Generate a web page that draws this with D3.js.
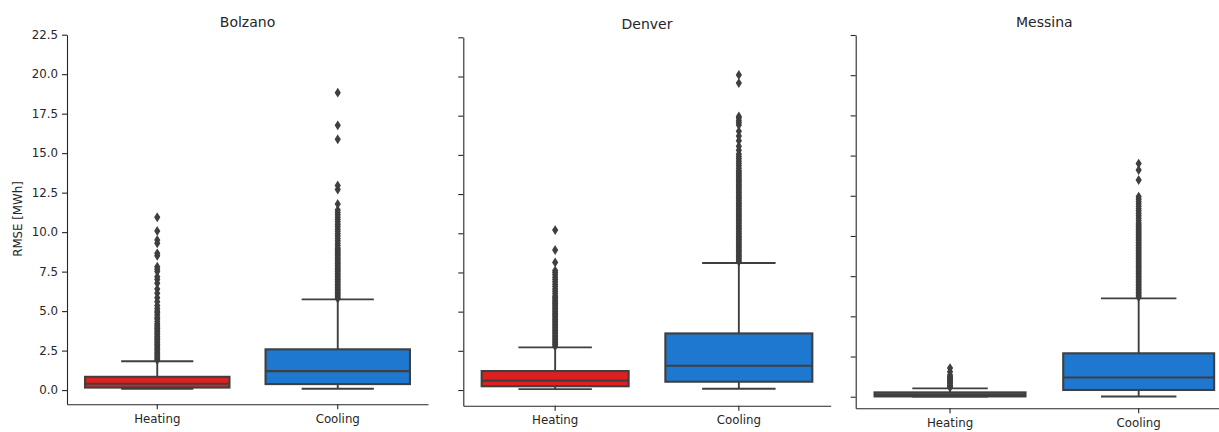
<!DOCTYPE html>
<meta charset='utf-8'>
<style>
	body {
		margin: 0;
		background: white;
	}

	text {
		font-family: 'DejaVu Sans', sans-serif;
		fill: #262626;
	}

	.axis path, .axis line {
		stroke: #262626;
		stroke-width: 1.1px;
	}
</style>
<body>
<script src='https://cdn.jsdelivr.net/npm/d3@7'></script>

<script type='text/javascript'>
	// data
	var cities = ['Bolzano', 'Denver', 'Messina'];
	var categories = ['Heating', 'Cooling'];
	var yTickValues = [0, 2.5, 5, 7.5, 10, 12.5, 15, 17.5, 20, 22.5];

	var heatingLow = [0.08, 0.06, 0.01];
	var heatingQ1 = [0.16, 0.24, 0.02];
	var heatingMedian = [0.4, 0.6, 0.1];
	var heatingQ3 = [0.84, 1.21, 0.27];
	var heatingHigh = [1.83, 2.72, 0.52];

	var coolingLow = [0.08, 0.08, 0.01];
	var coolingQ1 = [0.38, 0.53, 0.42];
	var coolingMedian = [1.2, 1.55, 1.2];
	var coolingQ3 = [2.58, 3.61, 2.7];
	var coolingHigh = [5.74, 8.1, 6.12];

	var bolzanoHeatingOutliers = [1.9, 2.0, 2.1, 2.2, 2.3, 2.4, 2.5, 2.6, 2.7, 2.8, 2.9, 3.0, 3.1, 3.2, 3.3, 3.4,
		3.5, 3.6, 3.7, 3.8, 3.9, 4.0, 4.1, 4.2, 4.35, 4.5, 4.6, 4.75, 4.9, 5.0, 5.17, 5.35, 5.6, 5.85, 6.13, 6.4,
		6.76, 7.0, 7.18, 7.5, 7.65, 7.81, 8.5, 8.66, 9.29, 9.5, 10.07, 10.94];
	var bolzanoCoolingOutliers = [5.8, 5.9, 6.0, 6.1, 6.2, 6.3, 6.4, 6.5, 6.6, 6.7, 6.8, 6.9, 7.0, 7.1, 7.2, 7.3,
		7.4, 7.5, 7.6, 7.7, 7.8, 7.9, 8.0, 8.1, 8.2, 8.3, 8.4, 8.5, 8.6, 8.7, 8.8, 8.9, 9.0, 9.15, 9.3, 9.45, 9.6,
		9.75, 9.9, 10.05, 10.2, 10.35, 10.5, 10.65, 10.8, 10.95, 11.1, 11.25, 11.4, 11.78, 12.7, 12.95, 15.88,
		16.76, 18.83];
	var denverHeatingOutliers = [2.8, 2.9, 3.0, 3.1, 3.2, 3.3, 3.4, 3.5, 3.6, 3.7, 3.8, 3.9, 4.0, 4.1, 4.2, 4.3,
		4.4, 4.5, 4.6, 4.7, 4.8, 4.9, 5.0, 5.1, 5.2, 5.3, 5.4, 5.5, 5.6, 5.7, 5.8, 5.9, 6.0, 6.15, 6.3, 6.45, 6.6,
		6.75, 6.9, 7.05, 7.2, 7.35, 7.5, 7.62, 8.14, 8.93, 10.2];
	var denverCoolingOutliers = [8.2, 8.3, 8.4, 8.5, 8.6, 8.7, 8.8, 8.9, 9.0, 9.1, 9.2, 9.3, 9.4, 9.5, 9.6, 9.7,
		9.8, 9.9, 10.0, 10.1, 10.2, 10.3, 10.4, 10.5, 10.6, 10.7, 10.8, 10.9, 11.0, 11.1, 11.2, 11.3, 11.4, 11.5,
		11.6, 11.7, 11.8, 11.9, 12.0, 12.1, 12.2, 12.3, 12.4, 12.5, 12.6, 12.7, 12.8, 12.9, 13.0, 13.1, 13.2,
		13.3, 13.4, 13.5, 13.6, 13.7, 13.8, 13.9, 14.0, 14.15, 14.3, 14.45, 14.6, 14.75, 14.9, 15.05, 15.3, 15.55,
		15.9, 16.2, 16.5, 16.9, 17.05, 17.2, 17.35, 17.45, 19.58, 20.1];
	var messinaHeatingOutliers = [0.58, 0.65, 0.72, 0.8, 0.88, 0.95, 1.02, 1.1, 1.18, 1.25, 1.35, 1.55, 1.78];
	var messinaCoolingOutliers = [6.2, 6.3, 6.4, 6.5, 6.6, 6.7, 6.8, 6.9, 7.0, 7.1, 7.2, 7.3, 7.4, 7.5, 7.6, 7.7,
		7.8, 7.9, 8.0, 8.1, 8.2, 8.3, 8.4, 8.5, 8.6, 8.7, 8.8, 8.9, 9.0, 9.1, 9.2, 9.3, 9.4, 9.5, 9.6, 9.7, 9.8,
		9.9, 10.0, 10.1, 10.2, 10.3, 10.4, 10.5, 10.6, 10.7, 10.8, 10.95, 11.1, 11.25, 11.4, 11.55, 11.7, 11.85,
		12.0, 12.15, 12.3, 12.45, 13.48, 14.1, 14.5];

	var heatingOutliers = [bolzanoHeatingOutliers, denverHeatingOutliers, messinaHeatingOutliers];
	var coolingOutliers = [bolzanoCoolingOutliers, denverCoolingOutliers, messinaCoolingOutliers];

	// layout of each panel (pixels), the panels are not quite identical in the picture
	var panels = [
		{left: 67, right: 428, top: 34.7, bottom: 404.3, yMin: -0.9, labels: true},
		{left: 463.3, right: 830.7, top: 37.3, bottom: 405.7, yMin: -1.0, labels: false},
		{left: 855.7, right: 1233, top: 35, bottom: 408.3, yMin: -0.72, labels: false}
	];
	var colors = {Heating: '#df2020', Cooling: '#1e78d0'};
	var lineColor = '#3f3f3f';

	var svgW = 1219, svgH = 432;
	var svg = d3.select('body').append('svg').attr('width', svgW).attr('height', svgH);

	var diamond = 'M0,-3.8L2.4,0L0,3.8L-2.4,0Z';

	cities.forEach(function (city, i) {
		var p = panels[i];
		var y = d3.scaleLinear().domain([p.yMin, 22.5]).range([p.bottom, p.top]);
		var x = d3.scaleBand().domain(categories).range([p.left, p.right]).padding(0);
		var g = svg.append('g');

		var boxes = [
			{cat: 'Heating', lo: heatingLow[i], q1: heatingQ1[i], med: heatingMedian[i], q3: heatingQ3[i], hi: heatingHigh[i], out: heatingOutliers[i]},
			{cat: 'Cooling', lo: coolingLow[i], q1: coolingQ1[i], med: coolingMedian[i], q3: coolingQ3[i], hi: coolingHigh[i], out: coolingOutliers[i]}
		];

		boxes.forEach(function (b) {
			var cx = x(b.cat) + x.bandwidth() / 2;
			var bw = x.bandwidth() * 0.8;

			// whiskers and caps
			g.append('line').attr('x1', cx).attr('x2', cx).attr('y1', y(b.q3)).attr('y2', y(b.hi))
				.attr('stroke', lineColor).attr('stroke-width', 1.9);
			g.append('line').attr('x1', cx).attr('x2', cx).attr('y1', y(b.q1)).attr('y2', y(b.lo))
				.attr('stroke', lineColor).attr('stroke-width', 1.9);
			[b.lo, b.hi].forEach(function (v) {
				g.append('line').attr('x1', cx - bw / 4).attr('x2', cx + bw / 4).attr('y1', y(v)).attr('y2', y(v))
					.attr('stroke', lineColor).attr('stroke-width', 1.9);
			});

			g.append('rect').attr('x', cx - bw / 2).attr('width', bw)
				.attr('y', y(b.q3)).attr('height', y(b.q1) - y(b.q3))
				.attr('fill', colors[b.cat]).attr('stroke', lineColor).attr('stroke-width', 2.1);
			g.append('line').attr('x1', cx - bw / 2).attr('x2', cx + bw / 2).attr('y1', y(b.med)).attr('y2', y(b.med))
				.attr('stroke', lineColor).attr('stroke-width', 2.1);

			g.selectAll(null).data(b.out).enter().append('path')
				.attr('d', diamond)
				.attr('transform', function (v) { return 'translate(' + cx + ',' + y(v) + ')'; })
				.attr('fill', lineColor).attr('stroke', lineColor).attr('stroke-width', 1.2);
		});

		var yAxis = d3.axisLeft(y).tickValues(yTickValues).tickSize(5).tickSizeOuter(0).tickPadding(4)
			.tickFormat(p.labels ? d3.format('.1f') : '');
		g.append('g').attr('class', 'axis').attr('transform', 'translate(' + p.left + ',0)').call(yAxis)
			.selectAll('text').attr('font-size', '11.8px').style('font-family', "'DejaVu Sans', sans-serif");

		var xAxis = d3.axisBottom(x).tickSize(5).tickSizeOuter(0).tickPadding(5);
		g.append('g').attr('class', 'axis').attr('transform', 'translate(0,' + p.bottom + ')').call(xAxis)
			.selectAll('text').attr('font-size', '11.8px').style('font-family', "'DejaVu Sans', sans-serif");

		g.selectAll('.axis .domain').attr('stroke', '#262626');

		g.append('text').attr('x', (p.left + p.right) / 2).attr('y', p.top - 8)
			.attr('text-anchor', 'middle').attr('font-size', '14px').text(city);
	});

	svg.append('text').attr('transform', 'translate(22,219) rotate(-90)')
		.attr('text-anchor', 'middle').attr('font-size', '11.8px').text('RMSE [MWh]');
</script>
